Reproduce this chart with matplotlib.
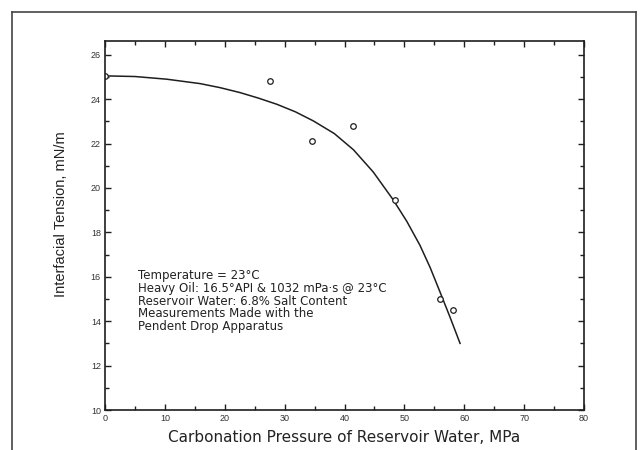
import matplotlib.pyplot as plt
import numpy as np
from matplotlib.lines import Line2D
from matplotlib.ticker import MultipleLocator

plt.rcParams['font.family'] = ['Liberation Sans', 'DejaVu Sans']

# measured points
pressure = [0.0, 27.5, 34.5, 41.5, 48.4, 55.9, 58.1]
tension  = [25.05, 24.82, 22.1, 22.8, 19.45, 15.02, 14.5]

# trend curve
curve_x = [0, 5, 10.3, 15.9, 19.2, 22.5, 25.6, 28.7, 31.8, 34.8, 38.3, 41.5, 44.8,
           48.1, 50.4, 52.6, 54.3, 55.9, 57.6, 59.3]
curve_y = [25.05, 25.02, 24.9, 24.7, 24.52, 24.3, 24.05, 23.77, 23.43, 23.02, 22.45,
           21.72, 20.72, 19.48, 18.5, 17.42, 16.42, 15.35, 14.2, 13.0]

notes = ["Temperature = 23°C",
         "Heavy Oil: 16.5°API & 1032 mPa·s @ 23°C",
         "Reservoir Water: 6.8% Salt Content",
         "Measurements Made with the",
         "Pendent Drop Apparatus"]

ink = '#1e1e1e'

fig = plt.figure(figsize=(6.41, 4.5), dpi=100)
ax = fig.add_axes([105/641, 1-410/450, (584-105)/641, (410-41)/450])

ax.plot(curve_x, curve_y, color=ink, lw=1.1)
ax.plot(pressure, tension, 'o', mfc='white', mec=ink, ms=4, mew=0.9)

ax.set_xlim(0, 80)
ax.set_ylim(10, 26.62)
ax.xaxis.set_major_locator(MultipleLocator(10))
ax.xaxis.set_minor_locator(MultipleLocator(5))
ax.yaxis.set_major_locator(MultipleLocator(2))
ax.yaxis.set_minor_locator(MultipleLocator(1))
ax.tick_params(which='both', direction='in', top=True, right=True, color=ink, width=1.0)
ax.tick_params(which='major', length=4, labelsize=6.5, labelcolor='#333333', pad=3)
ax.tick_params(which='minor', length=3)
for s in ax.spines.values():
    s.set_linewidth(1.2)
    s.set_color(ink)

ax.set_ylabel('Interfacial Tension, mN/m', fontsize=10.5, color='#222222')
ax.yaxis.set_label_coords(-0.077, 0.531)
ax.set_xlabel('Carbonation Pressure of Reservoir Water, MPa', fontsize=11,
              family='DejaVu Sans', color='#222222', labelpad=5)

for i, t in enumerate(notes):
    ax.text(5.5, 16.04 - i * 0.567, t, fontsize=8.5, family='DejaVu Sans',
            color='#222222', va='center')

# outer frame of the scanned page
fc = '#444444'
x0, x1, y0 = 12/641, 636/641, 1-12/450
fig.add_artist(Line2D([x0, x1], [y0, y0], color=fc, lw=1.2))
fig.add_artist(Line2D([x0, x0], [0, y0], color=fc, lw=1.2))
fig.add_artist(Line2D([x1, x1], [0, y0], color=fc, lw=1.2))

plt.savefig('out.png', dpi=100)
